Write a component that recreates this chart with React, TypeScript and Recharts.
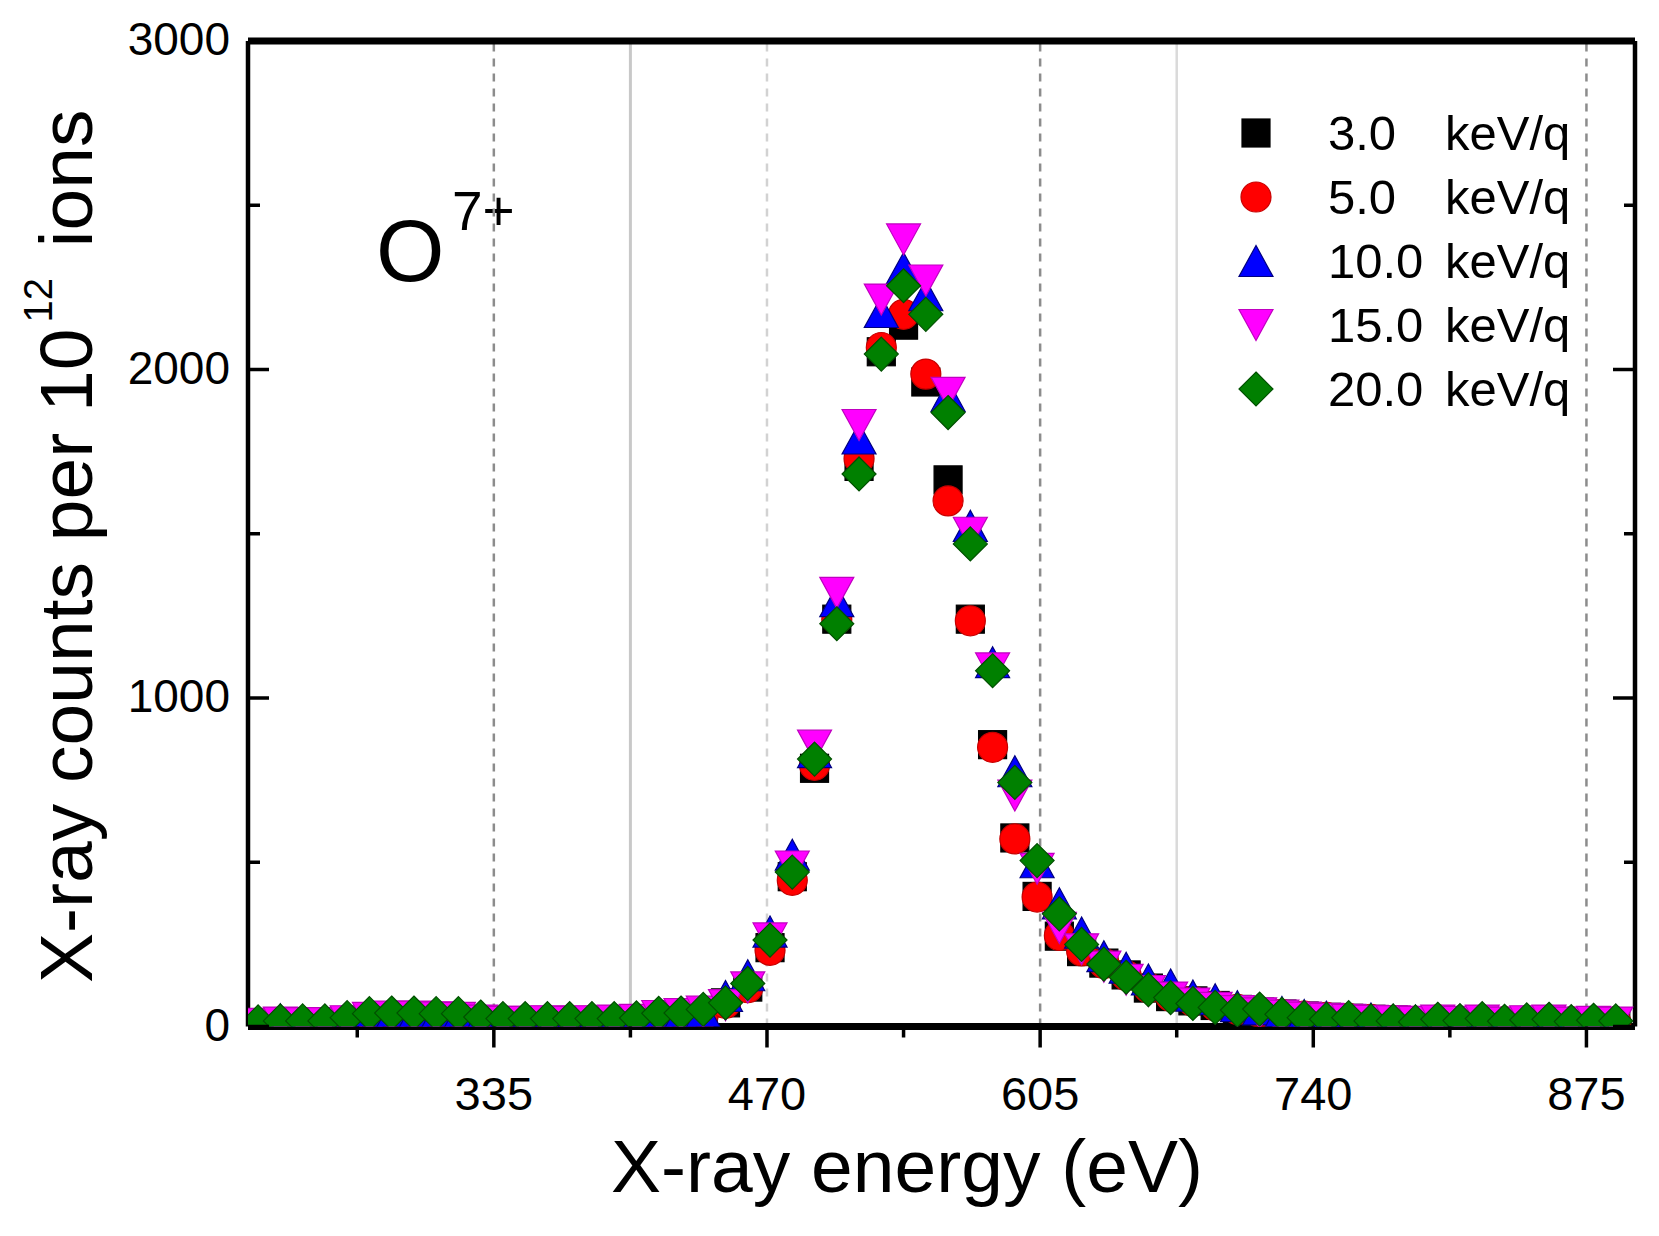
import React from 'react';
import { ScatterChart, Scatter, XAxis, YAxis, ReferenceLine, Legend, Customized } from 'recharts';

const energies = [
  218.5, 229.5, 240.5, 251.5, 262.5, 273.5, 284.5, 295.5, 306.5, 317.5,
  328.5, 339.5, 350.5, 361.5, 372.5, 383.5, 394.5, 405.5, 416.5, 427.5,
  438.5, 449.5, 460.5, 471.5, 482.5, 493.5, 504.5, 515.5, 526.5, 537.5,
  548.5, 559.5, 570.5, 581.5, 592.5, 603.5, 614.5, 625.5, 636.5, 647.5,
  658.5, 669.5, 680.5, 691.5, 702.5, 713.5, 724.5, 735.5, 746.5, 757.5,
  768.5, 779.5, 790.5, 801.5, 812.5, 823.5, 834.5, 845.5, 856.5, 867.5,
  878.5, 889.5,
];

const counts3 = [
  6, 10, 8, 8, 12, 22, 26, 28, 26, 22, 16, 12, 12, 14, 12, 14, 16, 18, 26, 30,
  35, 72, 120, 240, 456, 786, 1240, 1705, 2054, 2135, 1962, 1664, 1240, 858, 574, 396,
  275, 228, 193, 157, 117, 91, 78, 64, 52, 44, 38, 32, 28, 25, 22,
  20, 18, 20, 16, 20, 14, 18, 20, 14, 16, 14,
];
const counts5 = [
  6, 10, 8, 10, 14, 24, 28, 26, 24, 22, 14, 12, 14, 12, 14, 12, 16, 18, 26, 30,
  35, 70, 118, 232, 445, 795, 1240, 1728, 2067, 2168, 1986, 1600, 1235, 850, 571, 394,
  277, 230, 192, 155, 118, 92, 77, 63, 52, 43, 37, 32, 28, 25, 22,
  18, 16, 20, 16, 18, 14, 16, 18, 14, 16, 14,
];
const counts10 = [
  10, 22, 14, 12, 18, 30, 34, 32, 30, 28, 20, 18, 16, 18, 16, 18, 20, 22, 34, 38,
  45, 93, 156, 289, 523, 835, 1295, 1790, 2175, 2309, 2226, 1920, 1524, 1109, 777, 500,
  375, 286, 214, 179, 143, 128, 94, 83, 62, 52, 44, 35, 30, 27, 24,
  20, 18, 22, 18, 22, 16, 20, 22, 16, 18, 16,
];
const counts15 = [
  8, 12, 10, 10, 16, 26, 30, 30, 28, 26, 18, 14, 14, 16, 14, 16, 18, 20, 32, 38,
  45, 65, 119, 268, 487, 855, 1320, 1831, 2213, 2396, 2271, 1929, 1503, 1090, 703, 480,
  300, 235, 182, 142, 108, 88, 70, 57, 47, 40, 33, 27, 23, 20, 17,
  16, 14, 18, 14, 18, 12, 16, 18, 12, 14, 12,
];
const counts20 = [
  14, 17, 17, 17, 27, 39, 41, 41, 39, 39, 29, 24, 24, 24, 24, 24, 24, 26, 40, 41,
  52, 72, 131, 263, 470, 814, 1226, 1682, 2047, 2255, 2168, 1869, 1469, 1083, 743, 505,
  343, 250, 190, 150, 112, 88, 70, 58, 50, 53, 37, 27, 22, 27, 17,
  17, 14, 22, 18, 24, 16, 20, 22, 15, 19, 17,
];

const xMajorTicks = [335, 470, 605, 740, 875];
const xAllTicks = [267.5, 335, 402.5, 470, 537.5, 605, 672.5, 740, 807.5, 875];
const yMajorTicks = [0, 1000, 2000, 3000];
const yAllTicks = [0, 500, 1000, 1500, 2000, 2500, 3000];

const legendLabels = ['3.0', '5.0', '10.0', '15.0', '20.0'];
const unitLabel = 'keV/q';

const FONT = '"Liberation Sans", Arial, Helvetica, sans-serif';

// plot frame (pixel layout of the chart box)
const PLOT_LEFT = 248;
const PLOT_RIGHT = 1635;
const PLOT_TOP = 41;
const PLOT_BOTTOM = 1026.5;

type Kind = 'square' | 'circle' | 'up' | 'down' | 'diamond';

const series: { name: string; values: number[]; fill: string; edge: string; kind: Kind }[] = [
  { name: '3.0 keV/q', values: counts3, fill: '#000000', edge: '#000000', kind: 'square' },
  { name: '5.0 keV/q', values: counts5, fill: '#ff0000', edge: '#c80000', kind: 'circle' },
  { name: '10.0 keV/q', values: counts10, fill: '#0000ff', edge: '#000080', kind: 'up' },
  { name: '15.0 keV/q', values: counts15, fill: '#ff00ff', edge: '#c000c0', kind: 'down' },
  { name: '20.0 keV/q', values: counts20, fill: '#008000', edge: '#005000', kind: 'diamond' },
];

function Marker({ kind, cx, cy, fill, edge }: { kind: Kind; cx: number; cy: number; fill: string; edge: string }) {
  if (cx == null || cy == null || isNaN(cx) || isNaN(cy)) return null;
  const sw = 1.2;
  if (kind === 'square') {
    return <rect x={cx - 14} y={cy - 14} width={28} height={28} fill={fill} stroke={edge} strokeWidth={sw} />;
  }
  if (kind === 'circle') {
    return <circle cx={cx} cy={cy} r={15} fill={fill} stroke={edge} strokeWidth={sw} />;
  }
  if (kind === 'up') {
    return (
      <polygon
        points={`${cx},${cy - 15.5} ${cx - 17},${cy + 15.5} ${cx + 17},${cy + 15.5}`}
        fill={fill}
        stroke={edge}
        strokeWidth={sw}
      />
    );
  }
  if (kind === 'down') {
    return (
      <polygon
        points={`${cx - 17},${cy - 15.5} ${cx + 17},${cy - 15.5} ${cx},${cy + 15.5}`}
        fill={fill}
        stroke={edge}
        strokeWidth={sw}
      />
    );
  }
  return (
    <polygon
      points={`${cx},${cy - 17} ${cx + 17},${cy} ${cx},${cy + 17} ${cx - 17},${cy}`}
      fill={fill}
      stroke={edge}
      strokeWidth={sw}
    />
  );
}

const BottomTick = (props: any) => {
  const { x, payload } = props;
  const major = xMajorTicks.includes(payload.value);
  const y = PLOT_BOTTOM;
  return (
    <g>
      <line x1={x} x2={x} y1={y} y2={y + (major ? 21 : 11)} stroke="#000" strokeWidth={3.5} />
      {major && (
        <text x={x} y={y + 83} textAnchor="middle" fontSize={47} fontFamily={FONT} fill="#000">
          {payload.value}
        </text>
      )}
    </g>
  );
};

const TopTick = (props: any) => {
  const { x, payload } = props;
  const major = xMajorTicks.includes(payload.value);
  const y = PLOT_TOP;
  return <line x1={x} x2={x} y1={y} y2={y + (major ? 20 : 9)} stroke="#000" strokeWidth={3.5} />;
};

const LeftTick = (props: any) => {
  const { y, payload } = props;
  const major = yMajorTicks.includes(payload.value);
  const x = PLOT_LEFT;
  return (
    <g>
      <line x1={x} x2={x + (major ? 21 : 12)} y1={y} y2={y} stroke="#000" strokeWidth={3.5} />
      {major && (
        <text x={230} y={y + 14} textAnchor="end" fontSize={46} fontFamily={FONT} fill="#000">
          {payload.value}
        </text>
      )}
    </g>
  );
};

const RightTick = (props: any) => {
  const { y, payload } = props;
  const major = yMajorTicks.includes(payload.value);
  const x = PLOT_RIGHT;
  return <line x1={x} x2={x - (major ? 22 : 11)} y1={y} y2={y} stroke="#000" strokeWidth={3.5} />;
};

const LegendBox = () => {
  const rowY = [38, 102, 166, 230, 294];
  return (
    <svg width={430} height={330} style={{ display: 'block', overflow: 'visible' }}>
      {series.map((s, i) => (
        <g key={s.name}>
          <Marker kind={s.kind} cx={36} cy={rowY[i]} fill={s.fill} edge={s.edge} />
          <text x={108} y={rowY[i] + 17} fontSize={49} fontFamily={FONT} fill="#000">
            {legendLabels[i]}
          </text>
          <text x={225} y={rowY[i] + 17} fontSize={49} fontFamily={FONT} fill="#000">
            {unitLabel}
          </text>
        </g>
      ))}
    </svg>
  );
};

const Annotations = () => (
  <g>
    <text x={376} y={281} fontSize={88} fontFamily={FONT} fill="#000">O</text>
    <text x={452} y={230} fontSize={55} fontFamily={FONT} fill="#000">7+</text>
    <text x={907} y={1192} textAnchor="middle" fontSize={75} fontFamily={FONT} fill="#000">
      X-ray energy (eV)
    </text>
    <text transform="translate(92,983) rotate(-90)" fontSize={75} fontFamily={FONT} fill="#000">
      <tspan>X-ray counts per 10</tspan>
      <tspan dx={6} dy={-40} fontSize={40}>12</tspan>
      <tspan dx={10} dy={40} fontSize={75}> ions</tspan>
    </text>
  </g>
);

export default function App() {
  const datasets = series.map((s) => energies.map((e, i) => ({ x: e, y: s.values[i] })));
  return (
    <div style={{ position: 'absolute', left: 0, top: 0, width: 1659, height: 1236, background: '#fff' }}>
      <ScatterChart width={1659} height={1236} margin={{ top: 40, right: 23, bottom: 0, left: 0 }}>
        <XAxis
          xAxisId={0}
          dataKey="x"
          type="number"
          domain={[213.5, 899]}
          allowDataOverflow
          ticks={xAllTicks}
          interval={0}
          height={209.5}
          tickSize={0}
          tickMargin={0}
          tickLine={false}
          axisLine={{ stroke: '#000', strokeWidth: 7 }}
          tick={(p: any) => <BottomTick {...p} />}
        />
        <XAxis
          xAxisId="top"
          orientation="top"
          type="number"
          domain={[213.5, 899]}
          allowDataOverflow
          ticks={xAllTicks}
          interval={0}
          height={1}
          tickSize={0}
          tickMargin={0}
          tickLine={false}
          axisLine={{ stroke: '#000', strokeWidth: 7 }}
          tick={(p: any) => <TopTick {...p} />}
        />
        <YAxis
          yAxisId={0}
          dataKey="y"
          type="number"
          domain={[0, 3000]}
          allowDataOverflow
          ticks={yAllTicks}
          interval={0}
          width={248}
          tickSize={0}
          tickMargin={0}
          tickLine={false}
          axisLine={{ stroke: '#000', strokeWidth: 4.5 }}
          tick={(p: any) => <LeftTick {...p} />}
        />
        <YAxis
          yAxisId="right"
          orientation="right"
          type="number"
          domain={[0, 3000]}
          allowDataOverflow
          ticks={yAllTicks}
          interval={0}
          width={1}
          tickSize={0}
          tickMargin={0}
          tickLine={false}
          axisLine={{ stroke: '#000', strokeWidth: 4.5 }}
          tick={(p: any) => <RightTick {...p} />}
        />
        <ReferenceLine x={335} stroke="#8c8c8c" strokeWidth={2.5} strokeDasharray="8 7" />
        <ReferenceLine x={402.5} stroke="#c8c8c8" strokeWidth={3} />
        <ReferenceLine x={470} stroke="#d2d2d2" strokeWidth={2.5} strokeDasharray="8 7" />
        <ReferenceLine x={605} stroke="#8c8c8c" strokeWidth={2.5} strokeDasharray="8 7" />
        <ReferenceLine x={672.5} stroke="#dadada" strokeWidth={2.5} />
        <ReferenceLine x={875} stroke="#8c8c8c" strokeWidth={2.5} strokeDasharray="8 7" />
        {series.map((s, idx) => (
          <Scatter
            key={s.name}
            name={s.name}
            data={datasets[idx]}
            fill={s.fill}
            isAnimationActive={false}
            shape={(p: any) => <Marker kind={s.kind} cx={p.cx} cy={p.cy} fill={s.fill} edge={s.edge} />}
          />
        ))}
        <Legend
          layout="vertical"
          align="center"
          verticalAlign="middle"
          content={() => <LegendBox />}
          wrapperStyle={{ position: 'absolute', left: 1220, top: 95, width: 430, height: 330 }}
        />
        <Customized component={Annotations} />
      </ScatterChart>
    </div>
  );
}
